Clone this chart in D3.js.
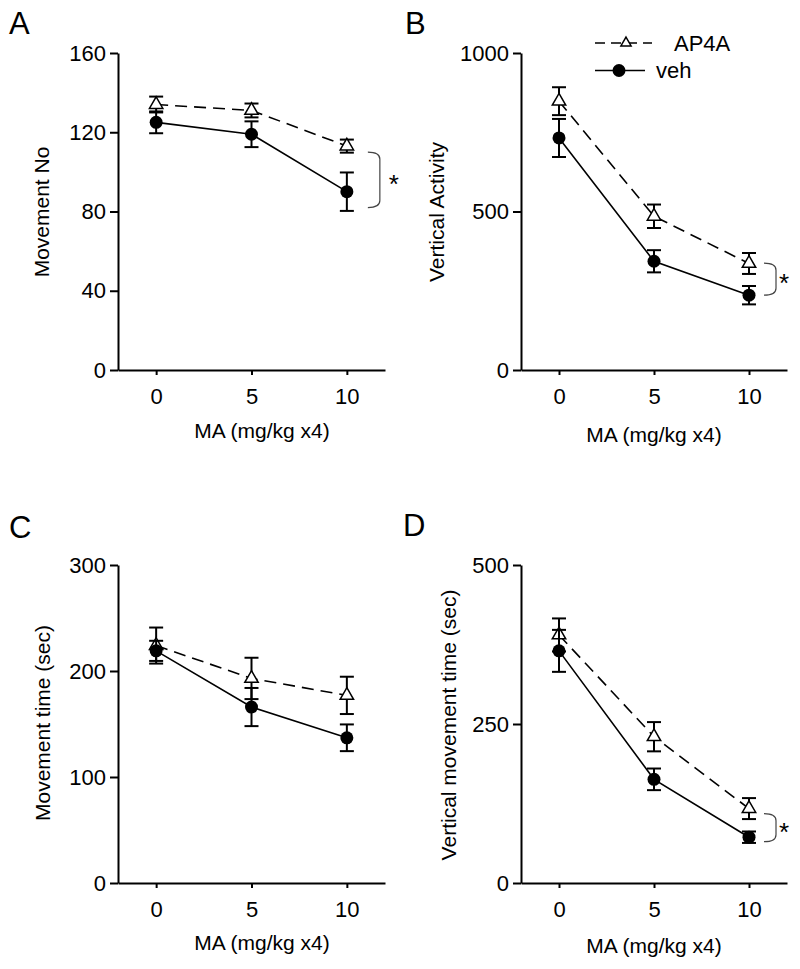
<!DOCTYPE html>
<html>
<head>
<meta charset="utf-8">
<script src="https://cdn.jsdelivr.net/npm/d3@7"></script>
<style>
  body { margin: 0; background: #fff; }
  text { font-family: "Liberation Sans", Arial, sans-serif; fill: #000; }
</style>
</head>
<body>
<svg id="chart"></svg>
<script>
'use strict';

// data
const doses = [0, 5, 10];

const moveNoAP4A = [134, 131, 113];
const moveNoAP4AErr = [4, 3.5, 3.3];
const moveNoVeh = [125, 119, 90];
const moveNoVehErr = [5.5, 6.5, 9.7];

const vertActAP4A = [848, 485, 336];
const vertActAP4AErr = [44, 37, 33];
const vertActVeh = [732, 343, 236];
const vertActVehErr = [60, 35, 29];

const moveTimeAP4A = [224, 193, 177];
const moveTimeAP4AErr = [17, 19.5, 17.6];
const moveTimeVeh = [219, 166, 137];
const moveTimeVehErr = [9.5, 18, 12.6];

const vertTimeAP4A = [390, 230, 117];
const vertTimeAP4AErr = [26, 23, 16.5];
const vertTimeVeh = [365, 163, 72];
const vertTimeVehErr = [33, 17, 9];

const ticksA = [0, 40, 80, 120, 160];
const ticksB = [0, 500, 1000];
const ticksC = [0, 100, 200, 300];
const ticksD = [0, 250, 500];

// significance brackets [top, bottom] in data units
const sigA = [110, 82];
const sigB = [337, 236];
const sigD = [109, 65];

const xLabel = 'MA (mg/kg x4)';
const seriesNames = ['AP4A', 'veh'];

const width = 800;
const height = 969;

const svg = d3.select('#chart')
    .attr('width', width)
    .attr('height', height);

const panels = [
    {
        letter: 'A', letterPos: [9, 34],
        left: 118, right: 385, top: 53, bottom: 370,
        ticks: ticksA, yLabel: 'Movement No', yLabelPos: [42, 212],
        xLabelPos: [262, 438],
        ap4a: moveNoAP4A, ap4aErr: moveNoAP4AErr, veh: moveNoVeh, vehErr: moveNoVehErr,
        sig: sigA, sigOffset: [21, 33, 47]
    },
    {
        letter: 'B', letterPos: [405, 34],
        left: 521, right: 787, top: 53, bottom: 370,
        ticks: ticksB, yLabel: 'Vertical Activity', yLabelPos: [437, 212],
        xLabelPos: [654, 442],
        ap4a: vertActAP4A, ap4aErr: vertActAP4AErr, veh: vertActVeh, vehErr: vertActVehErr,
        sig: sigB, sigOffset: [15, 27, 35],
        legend: true
    },
    {
        letter: 'C', letterPos: [9, 538],
        left: 118, right: 385, top: 565, bottom: 883,
        ticks: ticksC, yLabel: 'Movement time (sec)', yLabelPos: [43, 723],
        xLabelPos: [262, 950],
        ap4a: moveTimeAP4A, ap4aErr: moveTimeAP4AErr, veh: moveTimeVeh, vehErr: moveTimeVehErr
    },
    {
        letter: 'D', letterPos: [403, 536],
        left: 521, right: 787, top: 565, bottom: 883,
        ticks: ticksD, yLabel: 'Vertical movement time (sec)', yLabelPos: [449, 725],
        xLabelPos: [654, 953],
        ap4a: vertTimeAP4A, ap4aErr: vertTimeAP4AErr, veh: vertTimeVeh, vehErr: vertTimeVehErr,
        sig: sigD, sigOffset: [15, 27, 35]
    }
];

const triangle = d3.symbol().type(d3.symbolTriangle).size(78);
const smallTriangle = d3.symbol().type(d3.symbolTriangle).size(45);

function styleAxis(g, fontSize) {
    g.attr('font-size', fontSize)
        .attr('font-family', '"Liberation Sans", Arial, sans-serif');
    g.selectAll('path.domain').attr('stroke-width', 2);
    g.selectAll('.tick line').attr('stroke-width', 2);
}

function drawSeries(g, x, y, values, errs, dashed, marker) {
    const points = doses.map((dose, i) => ({dose, value: values[i], err: errs[i]}));
    const line = d3.line().x(d => x(d.dose)).y(d => y(d.value));

    g.append('path')
        .datum(points)
        .attr('d', line)
        .attr('fill', 'none')
        .attr('stroke', '#000')
        .attr('stroke-width', 1.6)
        .attr('stroke-dasharray', dashed ? '12,7' : null);

    const bars = g.append('g')
        .selectAll('g')
        .data(points)
        .enter()
        .append('g')
        .attr('stroke', '#000')
        .attr('stroke-width', 2);

    bars.append('line')
        .attr('x1', d => x(d.dose)).attr('x2', d => x(d.dose))
        .attr('y1', d => y(d.value - d.err)).attr('y2', d => y(d.value + d.err));
    bars.append('line')
        .attr('x1', d => x(d.dose) - 7).attr('x2', d => x(d.dose) + 7)
        .attr('y1', d => y(d.value + d.err)).attr('y2', d => y(d.value + d.err));
    bars.append('line')
        .attr('x1', d => x(d.dose) - 7).attr('x2', d => x(d.dose) + 7)
        .attr('y1', d => y(d.value - d.err)).attr('y2', d => y(d.value - d.err));

    if (marker === 'triangle') {
        g.append('g')
            .selectAll('path')
            .data(points)
            .enter()
            .append('path')
            .attr('d', triangle)
            .attr('transform', d => `translate(${x(d.dose)}, ${y(d.value)})`)
            .attr('fill', '#fff')
            .attr('stroke', '#000')
            .attr('stroke-width', 1.5);
    } else {
        g.append('g')
            .selectAll('circle')
            .data(points)
            .enter()
            .append('circle')
            .attr('cx', d => x(d.dose))
            .attr('cy', d => y(d.value))
            .attr('r', 6.5)
            .attr('fill', '#000');
    }
}

function drawBracket(g, x, y, sig, offset) {
    const x0 = x(10) + offset[0];
    const x1 = x(10) + offset[1];
    const yT = y(sig[0]);
    const yB = y(sig[1]);
    const r = 7;

    g.append('path')
        .attr('d', `M${x0},${yT} Q${x1},${yT} ${x1},${yT + r} L${x1},${yB - r} Q${x1},${yB} ${x0},${yB}`)
        .attr('fill', 'none')
        .attr('stroke', '#444')
        .attr('stroke-width', 1.2);

    g.append('text')
        .attr('x', x(10) + offset[2])
        .attr('y', (yT + yB) / 2 + 13)
        .attr('text-anchor', 'middle')
        .attr('font-size', 26)
        .text('*');
}

function drawLegend(g) {
    g.append('line')
        .attr('x1', 595).attr('x2', 652).attr('y1', 43).attr('y2', 43)
        .attr('stroke', '#000').attr('stroke-width', 1.6)
        .attr('stroke-dasharray', '10,6');
    g.append('path')
        .attr('d', smallTriangle)
        .attr('transform', 'translate(626, 43)')
        .attr('fill', '#fff').attr('stroke', '#000').attr('stroke-width', 1.5);
    g.append('text')
        .attr('x', 674).attr('y', 51)
        .attr('font-size', 22)
        .text(seriesNames[0]);

    g.append('line')
        .attr('x1', 595).attr('x2', 645).attr('y1', 70.5).attr('y2', 70.5)
        .attr('stroke', '#000').attr('stroke-width', 1.6);
    g.append('circle')
        .attr('cx', 619).attr('cy', 70.5).attr('r', 6.5)
        .attr('fill', '#000');
    g.append('text')
        .attr('x', 656).attr('y', 78)
        .attr('font-size', 22)
        .text(seriesNames[1]);
}

function renderPanel(p) {
    const g = svg.append('g');

    const x = d3.scaleLinear().domain([-2, 12]).range([p.left, p.right]);
    const y = d3.scaleLinear().domain([0, p.ticks[p.ticks.length - 1]]).range([p.bottom, p.top]);

    g.append('g')
        .attr('transform', `translate(0, ${p.bottom})`)
        .call(d3.axisBottom(x).tickValues(doses).tickSize(5).tickPadding(13).tickSizeOuter(0))
        .call(ax => styleAxis(ax, 22));

    g.append('g')
        .attr('transform', `translate(${p.left}, 0)`)
        .call(d3.axisLeft(y).tickValues(p.ticks).tickFormat(d3.format('d'))
            .tickSize(8).tickPadding(4).tickSizeOuter(0))
        .call(ax => styleAxis(ax, 22));

    g.append('text')
        .attr('x', p.letterPos[0]).attr('y', p.letterPos[1])
        .attr('font-size', 31)
        .text(p.letter);

    g.append('text')
        .attr('transform', `translate(${p.yLabelPos[0]}, ${p.yLabelPos[1]}) rotate(-90)`)
        .attr('text-anchor', 'middle')
        .attr('dy', '0.35em')
        .attr('font-size', 21)
        .text(p.yLabel);

    g.append('text')
        .attr('x', p.xLabelPos[0]).attr('y', p.xLabelPos[1])
        .attr('text-anchor', 'middle')
        .attr('font-size', 21)
        .text(xLabel);

    drawSeries(g, x, y, p.ap4a, p.ap4aErr, true, 'triangle');
    drawSeries(g, x, y, p.veh, p.vehErr, false, 'circle');

    if (p.sig) {
        drawBracket(g, x, y, p.sig, p.sigOffset);
    }
    if (p.legend) {
        drawLegend(g);
    }
}

panels.forEach(renderPanel);
</script>
</body>
</html>
